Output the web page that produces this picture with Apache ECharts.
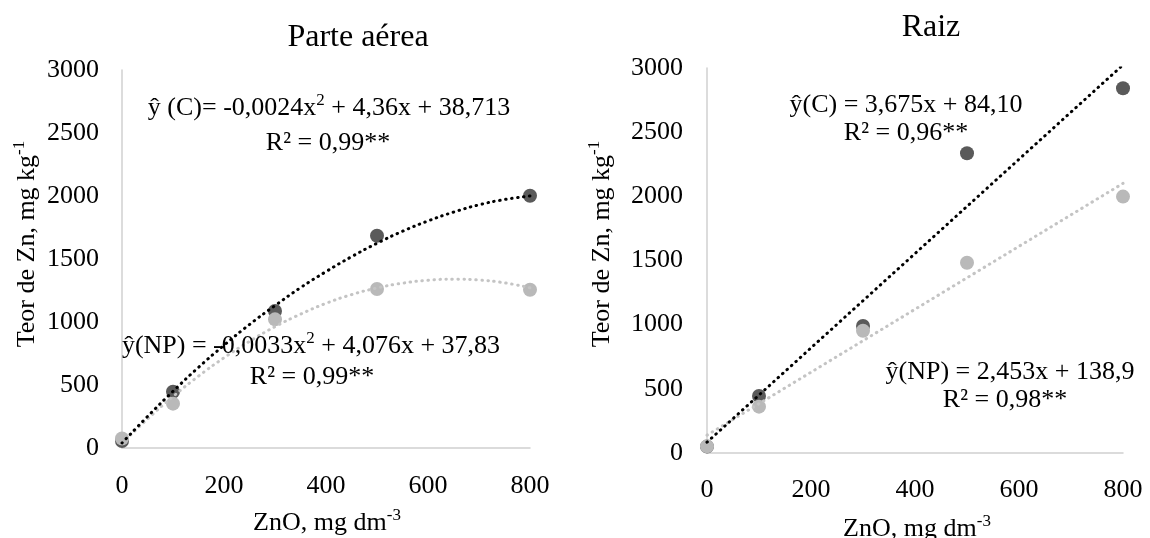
<!DOCTYPE html>
<html>
<head>
<meta charset="utf-8">
<script src="https://cdn.jsdelivr.net/npm/echarts@6/dist/echarts.min.js"></script>
<style>
html,body{margin:0;padding:0;background:#fff;}
#chart{width:1150px;height:538px;}
</style>
</head>
<body>
<div id="chart"></div>
<script>
// ---- data ----
var doses = [0, 100, 300, 500, 800];
// Parte aérea
var shootC = [55, 447, 1087, 1685, 2002];
var shootNP = [75, 352, 1021, 1262, 1256];
// Raiz
var rootC = [50, 444, 990, 2336, 2842];
var rootNP = [52, 361, 953, 1483, 1998];
// fitted trend curves
var fitX = [0, 50, 100, 150, 200, 250, 300, 350, 400, 450, 500, 550, 600, 650, 700, 750, 800];
var shootFitC = [40, 250, 450, 640, 815, 980, 1130, 1272, 1400, 1518, 1625, 1720, 1802, 1872, 1930, 1972, 2000];
var shootFitNP = [38, 230, 408, 570, 716, 846, 963, 1062, 1148, 1217, 1270, 1308, 1331, 1340, 1333, 1311, 1271];
var rootFitX = [0, 800];
var rootFitC = [84, 3024];
var rootFitNP = [139, 2101];
var xTicks = [0, 200, 400, 600, 800];
var yTicks = [0, 500, 1000, 1500, 2000, 2500, 3000];

function pairs(xs, ys) { return xs.map(function (x, i) { return [x, ys[i]]; }); }

var FONT = '"Liberation Serif", "Times New Roman", serif';
var DARK = '#5a5a5a', LIGHT = '#b9b9b9', LINE_C = '#000000', LINE_NP = '#c4c4c4';
var AXIS_COLOR = '#d0d0d0';

function xAxisCfg(gi, margin) {
  return {
    type: 'value', gridIndex: gi, min: xTicks[0], max: xTicks[xTicks.length - 1], interval: 200,
    axisLine: { show: true, onZero: false, lineStyle: { color: AXIS_COLOR, width: 1.5 } },
    axisTick: { show: false }, splitLine: { show: false },
    axisLabel: { color: '#000', fontFamily: FONT, fontSize: 26, margin: margin,
      formatter: function (v) { return String(v); } }
  };
}
function yAxisCfg(gi, margin) {
  return {
    type: 'value', gridIndex: gi, min: yTicks[0], max: yTicks[yTicks.length - 1], interval: 500,
    axisLine: { show: true, onZero: false, lineStyle: { color: AXIS_COLOR, width: 1.5 } },
    axisTick: { show: false }, splitLine: { show: false },
    axisLabel: { color: '#000', fontFamily: FONT, fontSize: 26, margin: margin,
      formatter: function (v) { return String(v); } }
  };
}
function scatter(xi, data, color, z) {
  return { type: 'scatter', xAxisIndex: xi, yAxisIndex: xi, data: data, symbol: 'circle', symbolSize: 14,
    itemStyle: { color: color, opacity: 1 }, z: z, silent: true };
}
function trend(xi, data, color, z, smooth) {
  return { type: 'line', xAxisIndex: xi, yAxisIndex: xi, data: data, showSymbol: false, smooth: smooth,
    lineStyle: { color: color, width: 3, type: [0.5, 5.5], cap: 'round' }, z: z, silent: true };
}

var rich = {
  n: { fontFamily: FONT, fontSize: 26, color: '#000', verticalAlign: 'bottom', lineHeight: 30 },
  s: { fontFamily: FONT, fontSize: 17, color: '#000', verticalAlign: 'bottom', lineHeight: 30, padding: [0, 0, 12, 0] },
  t: { fontFamily: FONT, fontSize: 32, color: '#000' }
};
function txt(x, y, str, rot) {
  return { type: 'text', x: x, y: y, rotation: rot || 0, z: 50,
    style: { text: str, rich: rich, align: 'center', verticalAlign: 'middle', fill: '#000' } };
}

var option = {
  animation: false,
  backgroundColor: '#fff',
  grid: [
    { left: 122, top: 70, width: 408, height: 378 },
    { left: 707, top: 68, width: 416, height: 385 }
  ],
  xAxis: [xAxisCfg(0, 25), xAxisCfg(1, 24)],
  yAxis: [yAxisCfg(0, 23), yAxisCfg(1, 24)],
  series: [
    scatter(0, pairs(doses, shootC), DARK, 2),
    scatter(0, pairs(doses, shootNP), LIGHT, 3),
    trend(0, pairs(fitX, shootFitNP), LINE_NP, 4, true),
    trend(0, pairs(fitX, shootFitC), LINE_C, 5, true),
    scatter(1, pairs(doses, rootC), DARK, 2),
    scatter(1, pairs(doses, rootNP), LIGHT, 3),
    trend(1, pairs(rootFitX, rootFitNP), LINE_NP, 4, false),
    trend(1, pairs(rootFitX, rootFitC), LINE_C, 5, false)
  ],
  graphic: [
    txt(358, 38, '{t|Parte aérea}'),
    txt(931, 28, '{t|Raiz}'),
    txt(25, 244, '{n|Teor de Zn, mg kg}{s|-1}', Math.PI / 2),
    txt(600, 244, '{n|Teor de Zn, mg kg}{s|-1}', Math.PI / 2),
    txt(327, 521, '{n|ZnO, mg dm}{s|-3}'),
    txt(917, 527, '{n|ZnO, mg dm}{s|-3}'),
    txt(329, 106, '{n|ŷ (C)= -0,0024x}{s|2}{n| + 4,36x + 38,713}'),
    txt(328, 141, '{n|R² = 0,99**}'),
    txt(311, 344, '{n|ŷ(NP) = -0,0033x}{s|2}{n| + 4,076x + 37,83}'),
    txt(312, 375, '{n|R² = 0,99**}'),
    txt(906, 103, '{n|ŷ(C) = 3,675x + 84,10}'),
    txt(906, 131, '{n|R² = 0,96**}'),
    txt(1010, 370, '{n|ŷ(NP) = 2,453x + 138,9}'),
    txt(1005, 398, '{n|R² = 0,98**}')
  ]
};
var chart = echarts.init(document.getElementById('chart'));
chart.setOption(option);
</script>
</body>
</html>
